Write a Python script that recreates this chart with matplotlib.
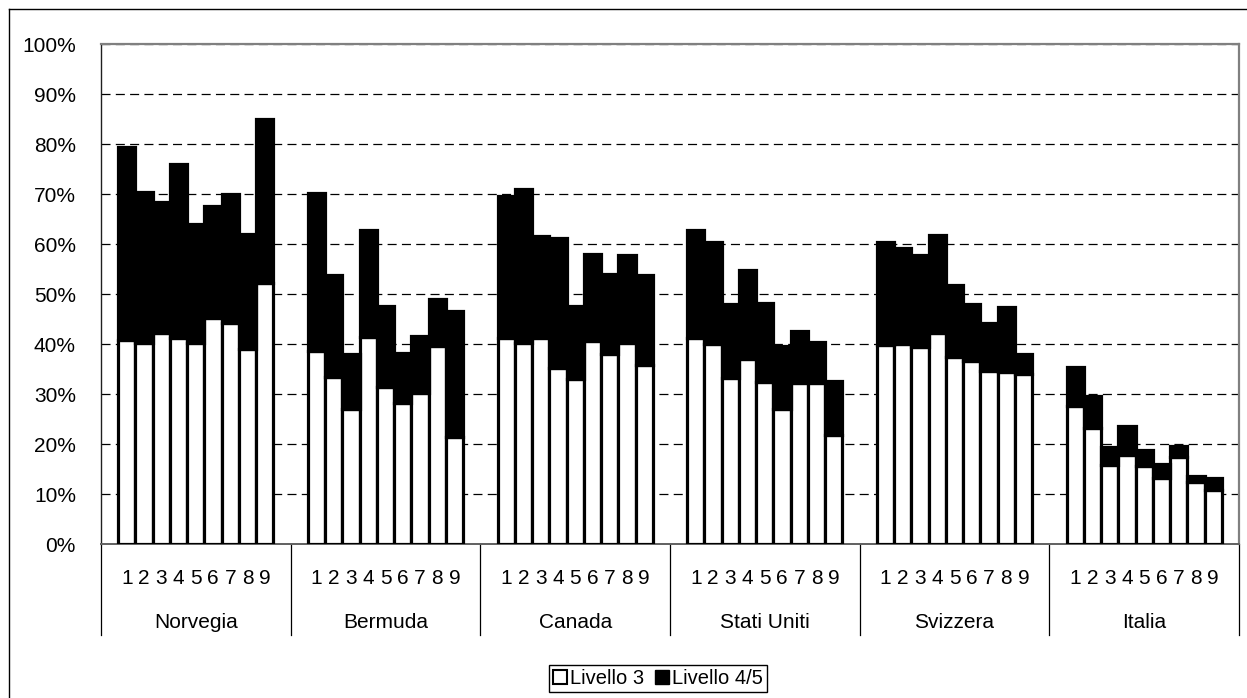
import matplotlib.pyplot as plt
import matplotlib.transforms as mtransforms
from matplotlib.patches import Patch
from matplotlib.lines import Line2D

# countries and sub-category labels
countries = ['Norvegia', 'Bermuda', 'Canada', 'Stati Uniti', 'Svizzera', 'Italia']
sub_labels = ['1', '2', '3', '4', '5', '6', '7', '8', '9']

# Livello 3 (white) values in %
livello3 = [
    [40.8, 40.3, 42.2, 41.2, 40.3, 45.2, 44.2, 39.1, 52.2],
    [38.6, 33.4, 27.1, 41.5, 31.4, 28.2, 30.2, 39.7, 21.5],
    [41.2, 40.2, 41.2, 35.2, 33.0, 40.6, 38.0, 40.3, 35.9],
    [41.2, 40.0, 33.3, 37.0, 32.4, 27.0, 32.3, 32.3, 21.8],
    [39.8, 40.0, 39.4, 42.2, 37.4, 36.6, 34.6, 34.4, 34.0],
    [27.6, 23.2, 15.8, 17.9, 15.7, 13.2, 17.4, 12.4, 10.8],
]
# Livello 4/5 (black) values in %
livello45 = [
    [38.7, 30.2, 26.2, 34.8, 23.6, 22.5, 25.8, 22.9, 32.8],
    [31.6, 20.4, 10.9, 21.3, 16.3, 10.0, 11.4, 9.3, 25.1],
    [28.5, 30.8, 20.4, 26.0, 14.7, 17.4, 16.1, 17.5, 17.9],
    [21.7, 20.4, 14.8, 17.8, 15.9, 12.7, 10.3, 8.1, 10.9],
    [20.6, 19.3, 18.4, 19.6, 14.4, 11.4, 9.6, 13.0, 4.0],
    [7.8, 6.4, 3.7, 5.7, 3.1, 2.8, 2.2, 1.2, 2.4],
]

plt.rcParams['font.family'] = ['Liberation Sans', 'DejaVu Sans']
plt.rcParams['lines.scale_dashes'] = False

W, H = 1247, 698
fig = plt.figure(figsize=(W / 100, H / 100), dpi=100)
ax = fig.add_axes([101 / W, 1 - 544 / H, (1239 - 101) / W, 500 / H])

slots = len(sub_labels) + 2   # one empty slot each side of a group
for g in range(len(countries)):
    xs = [g * slots + 1 + i + 0.5 for i in range(len(sub_labels))]
    ax.bar(xs, livello3[g], width=1, color='white', edgecolor='black', linewidth=2.3, zorder=3)
    ax.bar(xs, livello45[g], width=1, bottom=livello3[g], color='black', edgecolor='black',
           linewidth=2.3, zorder=3)

ax.set_xlim(0, slots * len(countries))
ax.set_ylim(0, 100)
ax.set_yticks(range(0, 101, 10))
ax.set_yticklabels(['%d%%' % v for v in range(0, 101, 10)], fontsize=15)
ax.tick_params(axis='y', length=0, pad=18)
ax.set_xticks([])
ax.yaxis.grid(True, color='black', linewidth=0.9, linestyle=(0, (6.5, 3.8)))
ax.set_axisbelow(True)

for s in ['top', 'right']:
    ax.spines[s].set_color('#808080')
    ax.spines[s].set_linewidth(1.6)
ax.spines['left'].set_color('#202020')
ax.spines['bottom'].set_color('#606060')
ax.spines['left'].set_linewidth(1)
ax.spines['bottom'].set_linewidth(1.4)

# multi level category axis
trans = mtransforms.blended_transform_factory(ax.transData, ax.transAxes)
for g, name in enumerate(countries):
    for i, lab in enumerate(sub_labels):
        ax.text(g * slots + 1 + i + 0.5, -0.081, lab, transform=trans, ha='center',
                va='baseline', fontsize=15)
    ax.text(g * slots + slots / 2, -0.167, name, transform=trans, ha='center',
            va='baseline', fontsize=15)
for g in range(len(countries) + 1):
    ax.plot([g * slots, g * slots], [0, -0.182], color='black', linewidth=0.9,
            transform=trans, clip_on=False)

handles = [Patch(facecolor='white', edgecolor='black', linewidth=1.5, label='Livello 3'),
           Patch(facecolor='black', edgecolor='black', label='Livello 4/5')]
leg = fig.legend(handles=handles, loc='center', bbox_to_anchor=(658 / W, 1 - 678.5 / H),
                 ncol=2, fontsize=14.5, handlelength=0.7, handleheight=0.7,
                 handletextpad=0.15, columnspacing=0.55, borderpad=0.2,
                 fancybox=False, framealpha=1)
leg.get_frame().set_edgecolor('black')
leg.get_frame().set_linewidth(1)

# outer chart border
fig.add_artist(Line2D([9 / W, 9 / W], [0, 1 - 9 / H], color='black', linewidth=1))
fig.add_artist(Line2D([9 / W, 1], [1 - 9 / H, 1 - 9 / H], color='black', linewidth=1))

fig.savefig('out.png', dpi=100)
